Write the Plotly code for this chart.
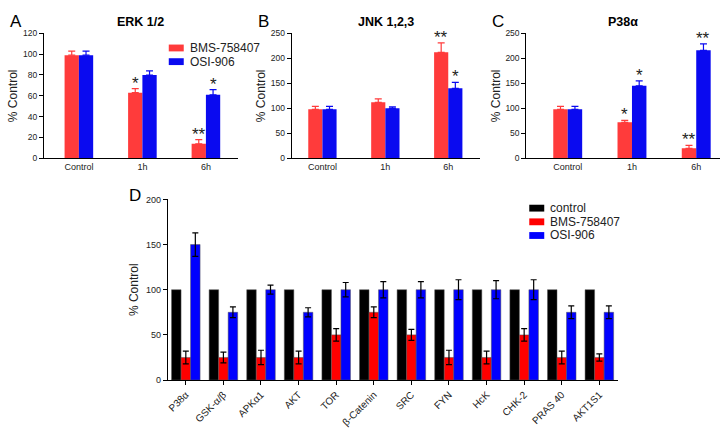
import plotly.graph_objects as go

W, H = 724, 429

# ---------------- data ----------------
time_cats = ["Control", "1h", "6h"]

erk_bms = [99, 63, 14]
erk_bms_err = [4, 4, 4]
erk_osi = [99, 80, 61]
erk_osi_err = [4, 4, 5]
erk_bms_stars = ["", "*", "**"]
erk_osi_stars = ["", "", "*"]

jnk_bms = [98, 112, 212]
jnk_bms_err = [6, 7, 19]
jnk_osi = [98, 100, 140]
jnk_osi_err = [6, 3, 12]
jnk_bms_stars = ["", "", "**"]
jnk_osi_stars = ["", "", "*"]

p38_bms = [98, 72, 20]
p38_bms_err = [6, 4, 6]
p38_osi = [98, 145, 216]
p38_osi_err = [6, 10, 13]
p38_bms_stars = ["", "*", "**"]
p38_osi_stars = ["", "*", "**"]

kinases = ["P38α", "GSK-α/β", "APKα1", "AKT", "TOR", "β-Catenin", "SRC",
           "FYN", "HcK", "CHK-2", "PRAS 40", "AKT1S1"]
d_control = [100] * 12
d_bms = [25, 25, 25, 25, 50, 75, 50, 25, 25, 50, 25, 25]
d_bms_err = [7, 6, 8, 7, 7, 6, 6, 8, 7, 7, 7, 4]
d_osi = [150, 75, 100, 75, 100, 100, 100, 100, 100, 100, 75, 75]
d_osi_err = [13, 6, 5, 5, 8, 9, 9, 11, 10, 11, 7, 7]

RED_ABC = "#FF3B3B"
BLUE_ABC = "#0A0AF0"
RED_D = "#FF0000"
BLUE_D = "#0000FF"
BLACK = "#000000"
FONT = "Liberation Sans, Arial, sans-serif"

fig = go.Figure()

def px_x(p):
    return p / W

def px_y(p):
    return 1 - p / H

panels = [
    ("", erk_bms, erk_bms_err, erk_osi, erk_osi_err, erk_bms_stars, erk_osi_stars,
     (43, 237), (-0.55, 2.5), 120, 20, "ERK 1/2", "A"),
    ("2", jnk_bms, jnk_bms_err, jnk_osi, jnk_osi_err, jnk_bms_stars, jnk_osi_stars,
     (291, 480), (-0.49, 2.51), 250, 50, "JNK 1,2,3", "B"),
    ("3", p38_bms, p38_bms_err, p38_osi, p38_osi_err, p38_bms_stars, p38_osi_stars,
     (526, 720), (-0.645, 2.37), 250, 50, "P38α", "C"),
]

bw = 0.225
xs = list(range(len(time_cats)))
annotations = []
for (sfx, bms, bmse, osi, osie, bst, ost, xdom, xr, ymax, dt, title, letter) in panels:
    xa = "x" + sfx
    ya = "y" + sfx
    for vals, errs, col, off in [(bms, bmse, RED_ABC, -bw), (osi, osie, BLUE_ABC, 0.0)]:
        fig.add_trace(go.Bar(
            x=xs, y=vals, width=bw, offset=off, marker=dict(color=col, line=dict(width=0)),
            error_y=dict(type="data", array=errs, arrayminus=[0] * len(errs), symmetric=False,
                         color=col, thickness=1.2, width=3.5),
            xaxis=xa, yaxis=ya, showlegend=False, hoverinfo="skip"))
    for stars, vals, errs, off in [(bst, bms, bmse, -bw / 2), (ost, osi, osie, bw / 2)]:
        for i, s in enumerate(stars):
            if s:
                annotations.append(dict(
                    x=i + off, y=vals[i] + errs[i], xref=xa, yref=ya, text=s,
                    showarrow=False, yanchor="bottom", yshift=-6,
                    font=dict(family=FONT, size=17, color="#222")))
    fig.layout["xaxis" + sfx] = dict(
        domain=[px_x(xdom[0]), px_x(xdom[1])], range=list(xr), anchor=ya,
        tickvals=xs, ticktext=time_cats, showline=True, linecolor="black", linewidth=1,
        ticks="", showgrid=False, zeroline=False, fixedrange=True,
        tickfont=dict(family=FONT, size=9, color="#222"))
    fig.layout["yaxis" + sfx] = dict(
        domain=[px_y(157), px_y(29)], range=[0, ymax], dtick=dt, anchor=xa,
        showline=True, linecolor="black", linewidth=1, ticks="outside", ticklen=4,
        tickcolor="black", showgrid=False, zeroline=False, fixedrange=True,
        tickfont=dict(family=FONT, size=8.5, color="#222"),
        title=dict(text="% Control", font=dict(family=FONT, size=12, color="#222"), standoff=2))
    annotations.append(dict(
        x=(xdom[0] + xdom[1]) / 2 / W, y=px_y(17), xref="paper", yref="paper",
        text="<b>" + title + "</b>", showarrow=False, xanchor="center", yanchor="middle",
        font=dict(family=FONT, size=12.5, color="black")))
    annotations.append(dict(
        x=(xdom[0] - 36) / W, y=px_y(17), xref="paper", yref="paper",
        text=letter, showarrow=False, xanchor="left", yanchor="middle",
        font=dict(family=FONT, size=17, color="black")))

# ---------------- panel D ----------------
dw = 0.253
xd = list(range(len(kinases)))
for vals, errs, col, off in [(d_control, None, BLACK, -1.5 * dw),
                             (d_bms, d_bms_err, RED_D, -0.5 * dw),
                             (d_osi, d_osi_err, BLUE_D, 0.5 * dw)]:
    kw = {}
    if errs is not None:
        kw["error_y"] = dict(type="data", array=errs, symmetric=True, color="black",
                             thickness=1.2, width=3)
    fig.add_trace(go.Bar(
        x=xd, y=vals, width=dw, offset=off,
        marker=dict(color=col, line=dict(width=0.5, color="#555")),
        xaxis="x4", yaxis="y4", showlegend=False, hoverinfo="skip", **kw))

fig.layout["xaxis4"] = dict(
    domain=[px_x(167), px_x(618)], range=[-0.48, 11.5], anchor="y4",
    tickvals=xd, ticktext=kinases, tickangle=-45, showline=True, linecolor="black",
    linewidth=1, ticks="outside", ticklen=4, tickcolor="black", showgrid=False,
    zeroline=False, fixedrange=True, tickfont=dict(family=FONT, size=10, color="#222"))
fig.layout["yaxis4"] = dict(
    domain=[px_y(384), px_y(199)], range=[0, 200], dtick=50, anchor="x4",
    showline=True, linecolor="black", linewidth=1, ticks="outside", ticklen=4,
    tickcolor="black", showgrid=False, zeroline=False, fixedrange=True,
    tickfont=dict(family=FONT, size=9, color="#222"),
    title=dict(text="% Control", font=dict(family=FONT, size=12, color="#222"), standoff=4))
annotations.append(dict(
    x=126 / W, y=px_y(195), xref="paper", yref="paper", text="D", showarrow=False,
    xanchor="left", yanchor="middle", font=dict(family=FONT, size=17, color="black")))

# ---------------- legends (drawn) ----------------
shapes = []
def legend(x0, ys, labels, colors):
    for yy, lab, col in zip(ys, labels, colors):
        shapes.append(dict(type="rect", xref="paper", yref="paper",
                           x0=x0 / W, x1=(x0 + 15) / W, y0=px_y(yy + 3.5), y1=px_y(yy - 3.5),
                           fillcolor=col, line=dict(width=0)))
        annotations.append(dict(x=(x0 + 19) / W, y=px_y(yy), xref="paper", yref="paper",
                                text=lab, showarrow=False, xanchor="left", yanchor="middle",
                                font=dict(family=FONT, size=12, color="#222")))

legend(168, [44, 58], ["BMS-758407", "OSI-906"], [RED_ABC, BLUE_ABC])
legend(529, [208, 222, 236], ["control", "BMS-758407", "OSI-906"], [BLACK, RED_D, BLUE_D])

fig.update_layout(
    width=W, height=H, margin=dict(l=0, r=0, t=0, b=0),
    paper_bgcolor="white", plot_bgcolor="white", barmode="overlay",
    annotations=annotations, shapes=shapes, font=dict(family=FONT), hovermode=False)

fig.write_html("out.html", config={"displayModeBar": False},
               post_script="document.body.style.margin='0';document.body.style.overflow='hidden';")
